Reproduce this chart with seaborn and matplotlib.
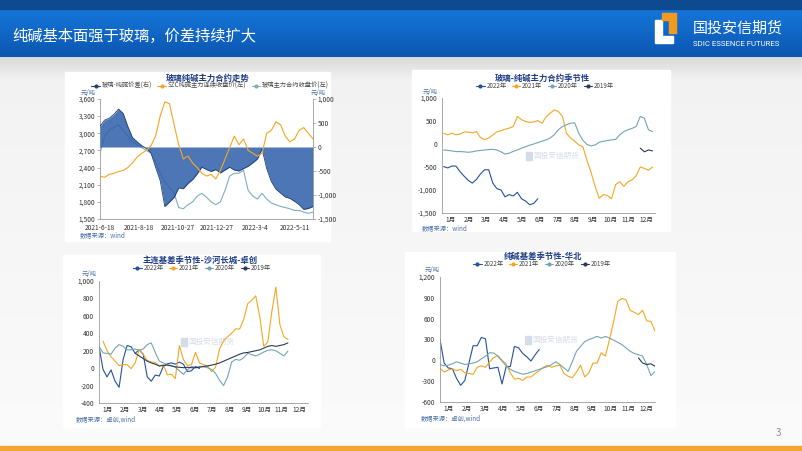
import numpy as np
import matplotlib
matplotlib.use('Agg')
import matplotlib.pyplot as plt
from matplotlib.lines import Line2D
from matplotlib.patches import Rectangle, Polygon
from matplotlib.ticker import FuncFormatter, MultipleLocator
import seaborn as sns

sns.set_theme(style='white')
plt.rcParams['font.family'] = ['Noto Sans CJK SC', 'DejaVu Sans']
plt.rcParams['axes.unicode_minus'] = False

W, H = 802, 451

# ---------------- 数据 ----------------
# 图1：玻璃纯碱主力合约走势（周度读数）
c1_ticklabels = ['2021-6-18', '2021-8-18', '2021-10-27', '2021-12-27', '2022-3-4', '2022-5-11']
c1_soda = [2250, 2230, 2280, 2300, 2330, 2350, 2400, 2480, 2580, 2650, 2700, 2780, 2950, 3300,
           3550, 3520, 3150, 2800, 2550, 2600, 2480, 2400, 2300, 2250, 2280, 2200, 2350, 2550,
           2750, 2950, 2800, 2900, 2700, 2650, 2600, 2650, 3000, 3050, 3200, 3150, 2950, 2850,
           2900, 3050, 3100, 3000, 2900]
c1_glass = [2650, 2950, 3050, 3100, 3150, 3050, 2950, 2850, 2800, 2750, 2700, 2650, 2500, 2300,
            2150, 2050, 1950, 1700, 1680, 1750, 1800, 1900, 1950, 1880, 1800, 1750, 1800, 2000,
            2250, 2300, 2300, 2350, 2000, 1900, 1850, 1950, 1850, 1780, 1750, 1720, 1700, 1680,
            1650, 1650, 1620, 1600, 1620]
c1_spread = [430, 560, 600, 680, 790, 700, 430, 200, 110, 30, -30, -120, -420, -700,
             -1240, -1150, -1050, -850, -870, -760, -680, -560, -420, -470, -510, -470, -540, -480,
             -420, -480, -500, -450, -400, -330, -250, -40, -450, -720, -880, -960, -1040, -1070,
             -1130, -1200, -1300, -1280, -1240]

# 季节性图：按周（第 0 周起）
months = [f'{m}月' for m in range(1, 13)]
years = ['2022年', '2021年', '2020年', '2019年']

# 图2：玻璃-纯碱主力合约季节性
c2_2022 = [-490, -520, -480, -480, -600, -700, -790, -850, -770, -650, -560, -560, -850, -970,
           -1000, -1150, -1100, -1130, -1050, -1190, -1240, -1320, -1290, -1190]
c2_2021 = [235, 200, 235, 200, 215, 260, 260, 240, 270, 140, 95, 130, 195, 265, 290, 320, 345,
           380, 600, 530, 490, 470, 480, 510, 450, 590, 670, 740, 710, 600, 230, 130, 60, -20,
           -60, -360, -620, -930, -1180, -1100, -1120, -1190, -880, -820, -920, -820, -780, -690,
           -500, -530, -570, -500]
c2_2020 = [-130, -140, -150, -165, -165, -170, -180, -170, -150, -140, -130, -120, -115, -130,
           -170, -220, -200, -160, -130, -90, -60, -25, 0, 30, 60, 90, 130, 200, 310, 380, 420,
           450, 460, 230, 80, -10, -40, -20, 40, 60, 75, 90, 100, 200, 270, 310, 340, 380, 600,
           560, 310, 270]
c2_2019 = [-90, -170, -130, -150]
c2_start = [0.4, 0.4, 0.4, 48.4]

# 图3：主连基差季节性-沙河长城-卓创
c3_2022 = [250, -15, -100, -20, -150, -220, 100, 260, 245, 170, 210, 160, -100, -150, -80, -90,
           20, 50, 60, 45, 70, 45, -40, -30, 20, -5]
c3_2021 = [310, 200, 130, 80, 30, 40, 40, -5, 60, 210, 160, 90, 70, 65, 25, 40, -75, -70, -120,
           260, 100, 30, 40, 180, 60, 40, 25, -40, 10, 220, 315, 360, 400, 450, 450, 560, 740,
           780, 830, 590, 250, 300, 650, 930, 500, 360, 330]
c3_2020 = [250, 175, 170, 160, 230, 270, 250, 210, 210, 220, 205, 220, 270, 290, 180, 80, 60,
           40, 30, 10, -30, -70, -20, 20, 5, 20, 15, 5, -15, -60, -140, -200, -100, 70, 100, 90,
           120, 170, 155, 140, 160, 185, 205, 210, 200, 170, 140, 195]
c3_2019 = [170, 140, 110, 80, 60, 45, 25, 30, 35, 25, 15, 10, 5, 10, 5, 5, 10, 20, 25, 35, 45,
           60, 80, 100, 120, 140, 160, 175, 180, 190, 200, 210, 230, 250, 260, 250, 260, 270, 290]
c3_start = [0, 1, 0, 9]

# 图4：纯碱基差季节性-华北
c4_2022 = [300, -40, -110, -120, -260, -360, -290, -40, 210, 210, 330, 310, -120, -110, -100,
           -340, -90, -90, 200, 180, 100, 50, -10, 80, 155]
c4_2021 = [-110, -170, -140, -120, -150, -130, -180, -190, -200, -100, -80, -100, -20, 40, 70,
           0, -50, -180, -270, -260, -290, -240, -240, -190, -150, -100, -70, -100, -80, -70,
           -190, -230, -250, -170, -70, -240, -180, -40, -40, 110, 60, 300, 560, 850, 890, 870,
           720, 690, 660, 720, 570, 560, 420]
c4_2020 = [-60, -80, -70, -50, -20, -40, -60, -50, -40, -20, 20, 60, 110, 105, 60, -10, -80,
           -130, -160, -180, -200, -190, -170, -150, -130, -110, -90, -60, -20, -60, -110, -160,
           -20, 130, 200, 270, 300, 320, 345, 320, 345, 320, 290, 260, 225, 180, 130, 100, 80,
           60, -60, -220, -160]
c4_2019 = [35, -40, -60, -50, -85]
c4_start = [0, 0, 0, 48]

year_colors = ['#24519E', '#F5A623', '#72A5B5', '#2D3A55']

# ---------------- 画布 ----------------
fig = plt.figure(figsize=(8.02, 4.51), dpi=100)
bg = fig.add_axes([0, 0, 1, 1])
bg.set_xlim(0, W)
bg.set_ylim(H, 0)
bg.axis('off')

bg.imshow(np.linspace(0, 1, 100).reshape(-1, 1), cmap=matplotlib.colors.LinearSegmentedColormap.from_list(
    'g', ['#F2F2F2', '#FBFBFB']), extent=[0, W, H, 57], aspect='auto', zorder=0)
bg.imshow(np.linspace(0, 1, 60).reshape(-1, 1), cmap=matplotlib.colors.LinearSegmentedColormap.from_list(
    'g2', ['#D9D9D9', '#F2F2F2']), extent=[0, W, 80, 57], aspect='auto', zorder=0)
bg.imshow(np.linspace(0, 1, 60).reshape(-1, 1), cmap=matplotlib.colors.LinearSegmentedColormap.from_list(
    'hb', ['#1676DA', '#0B57B0']), extent=[0, W, 57, 9], aspect='auto', zorder=1)
bg.add_patch(Rectangle((0, 0), W, 9, color='#0D4A90', zorder=2))
bg.add_patch(Rectangle((0, 446), W, 5, color='#F4A533', zorder=2))

bg.text(12, 36, '纯碱基本面强于玻璃，价差持续扩大', color='white', fontsize=11, va='center', ha='left', zorder=3)
# 标志
bg.add_patch(Polygon([(655, 20), (662, 20), (662, 36), (673, 36), (673, 43), (655, 43)],
                     closed=True, color='white', zorder=3))
bg.add_patch(Polygon([(662, 13), (676, 13), (676, 33), (669, 33), (669, 20), (662, 20)],
                     closed=True, color='#F39A1E', zorder=3))
bg.text(693, 28, '国投安信期货', color='white', fontsize=10.8, va='center', ha='left', zorder=3)
bg.text(693, 44, 'SDIC ESSENCE FUTURES', color='white', fontsize=5.6, va='center', ha='left',
        family='Roboto', zorder=3)
bg.text(778, 433, '3', color='#8C8C8C', fontsize=7, va='center', ha='center')

# 白色图框
for (x0, y0, x1, y1) in [(65, 72, 330, 241), (412, 70, 670, 231), (63, 255, 320, 427), (405, 252, 675, 427)]:
    bg.add_patch(Rectangle((x0, y0), x1 - x0, y1 - y0, color='white', zorder=1))

TXT = '#333333'
BLUE_TXT = '#4A6FA5'
comma = FuncFormatter(lambda v, p: f'{v:,.0f}')


def px_axes(x0, y0, x1, y1):
    return fig.add_axes([x0 / W, 1 - y1 / H, (x1 - x0) / W, (y1 - y0) / H])


def style_axis(ax):
    ax.patch.set_alpha(0)
    for s in ['top', 'right']:
        ax.spines[s].set_visible(False)
    for s in ['left', 'bottom']:
        ax.spines[s].set_color('#9A9A9A')
        ax.spines[s].set_linewidth(0.6)
    ax.tick_params(axis='both', labelsize=4.8, colors='#9A9A9A', labelcolor=TXT, length=2, width=0.5, pad=1.5)


def legend(handles, labels, cx, cy):
    fig.legend(handles, labels, loc='center', bbox_to_anchor=(cx / W, 1 - cy / H), ncol=len(labels),
               fontsize=4.5, frameon=False, handlelength=1.3, handletextpad=0.3, columnspacing=0.9,
               borderpad=0, labelcolor='#444444')


def year_handles():
    return [Line2D([0], [0], color=c, lw=0.8, marker='o', markersize=2) for c in year_colors]


# ---------------- 图1 ----------------
x1 = np.arange(len(c1_soda))
ax1 = px_axes(100, 99, 313, 219)
ax2 = ax1.twinx()
ax3 = ax1.twinx()
style_axis(ax1)
sns.lineplot(x=x1, y=c1_glass, ax=ax1, color='#7FAFC0', lw=0.8)
ax2.fill_between(x1, 0, c1_spread, color='#2E5EAA', alpha=0.85, lw=0)
sns.lineplot(x=x1, y=c1_spread, ax=ax2, color='#1E3F78', lw=0.6)
sns.lineplot(x=x1, y=c1_soda, ax=ax3, color='#F5A623', lw=0.8)
ax1.set_ylim(1500, 3600)
ax3.set_ylim(1500, 3600)
ax2.set_ylim(-1500, 1000)
ax1.set_xlim(0, len(c1_soda) - 1)
ax1.yaxis.set_major_locator(MultipleLocator(300))
ax2.yaxis.set_major_locator(MultipleLocator(500))
ax1.yaxis.set_major_formatter(comma)
ax2.yaxis.set_major_formatter(comma)
ax1.set_xticks(np.arange(len(c1_ticklabels)) * 8.4)
ax1.set_xticklabels(c1_ticklabels)
ax2.patch.set_alpha(0)
for s in ['top', 'left', 'bottom']:
    ax2.spines[s].set_visible(False)
ax2.spines['right'].set_color('#9A9A9A')
ax2.spines['right'].set_linewidth(0.6)
ax2.tick_params(axis='y', labelsize=4.8, colors='#9A9A9A', labelcolor=TXT, length=2, width=0.5, pad=1.5)
ax3.axis('off')
ax1.tick_params(axis='x', length=0, pad=3.5)
for a in (ax1, ax2, ax3):
    a.set_xlabel('')
    a.set_ylabel('')
bg.text(208, 78, '玻璃纯碱主力合约走势', color='#1F3C88', fontsize=6, weight='bold', ha='center', va='center')
legend([Line2D([0], [0], color='#1E3F78', lw=0.8, marker='o', markersize=2),
        Line2D([0], [0], color='#F5A623', lw=0.8, marker='o', markersize=2),
        Line2D([0], [0], color='#7FAFC0', lw=0.8, marker='o', markersize=2)],
       ['玻璃-纯碱价差(右)', 'SZC纯碱主力连续收盘价(左)', '玻璃主力合约收盘价(左)'], 210, 86)
bg.text(88, 93, '元/吨', color=BLUE_TXT, fontsize=4.5, ha='center', va='center')
bg.text(318, 93, '元/吨', color=BLUE_TXT, fontsize=4.5, ha='center', va='center')
bg.text(80, 235, '数据来源：wind', color=BLUE_TXT, fontsize=4.5, ha='left', va='center')


# ---------------- 季节性图 ----------------
def seasonal(rect, series, starts, ylim, step, title, tpos, lpos, upos, spos, src):
    ax = px_axes(*rect)
    style_axis(ax)
    for vals, st, c in zip(series, starts, year_colors):
        sns.lineplot(x=st + np.arange(len(vals)), y=vals, ax=ax, color=c, lw=0.8)
    ax.set_xlim(0, 52)
    ax.set_ylim(*ylim)
    ax.yaxis.set_major_locator(MultipleLocator(step))
    ax.yaxis.set_major_formatter(comma)
    ax.set_xticks((np.arange(12) + 0.5) * 52 / 12)
    ax.set_xticklabels(months)
    ax.tick_params(axis='x', length=0, pad=2)
    ax.set_xticks(np.arange(13) * 52 / 12, minor=True)
    ax.tick_params(axis='x', which='minor', length=2, width=0.5, colors='#9A9A9A')
    ax.set_xlabel('')
    ax.set_ylabel('')
    cx = (rect[0] + rect[2]) / 2
    cy = (rect[1] + rect[3]) / 2
    bg.text(cx + 8, cy, '国投安信期货', color='#D5DCE8', fontsize=5.5, ha='center', va='center', zorder=2)
    bg.add_patch(Rectangle((cx - 23, cy - 4), 6, 8, color='#D5DCE8', zorder=2))
    bg.text(tpos[0], tpos[1], title, color='#1F3C88', fontsize=6, weight='bold', ha='center', va='center')
    legend(year_handles(), years, *lpos)
    bg.text(upos[0], upos[1], '元/吨', color=BLUE_TXT, fontsize=4.5, ha='center', va='center')
    bg.text(spos[0], spos[1], src, color=BLUE_TXT, fontsize=4.5, ha='left', va='center')


seasonal((442, 98, 655, 213), [c2_2022, c2_2021, c2_2020, c2_2019], c2_start, (-1500, 1000), 500,
         '玻璃-纯碱主力合约季节性', (542, 78), (545, 86), (430, 92), (422, 228), '数据来源：wind')
seasonal((99, 281, 308, 403), [c3_2022, c3_2021, c3_2020, c3_2019], c3_start, (-400, 1000), 200,
         '主连基差季节性-沙河长城-卓创', (200, 260), (202, 268), (89, 274), (76, 420), '数据来源：卓创,wind')
seasonal((440, 277, 655, 402), [c4_2022, c4_2021, c4_2020, c4_2019], c4_start, (-600, 1200), 300,
         '纯碱基差季节性-华北', (543, 256), (542, 264), (432, 270), (421, 419), '数据来源：卓创,wind')

fig.savefig('out.png', dpi=100)
